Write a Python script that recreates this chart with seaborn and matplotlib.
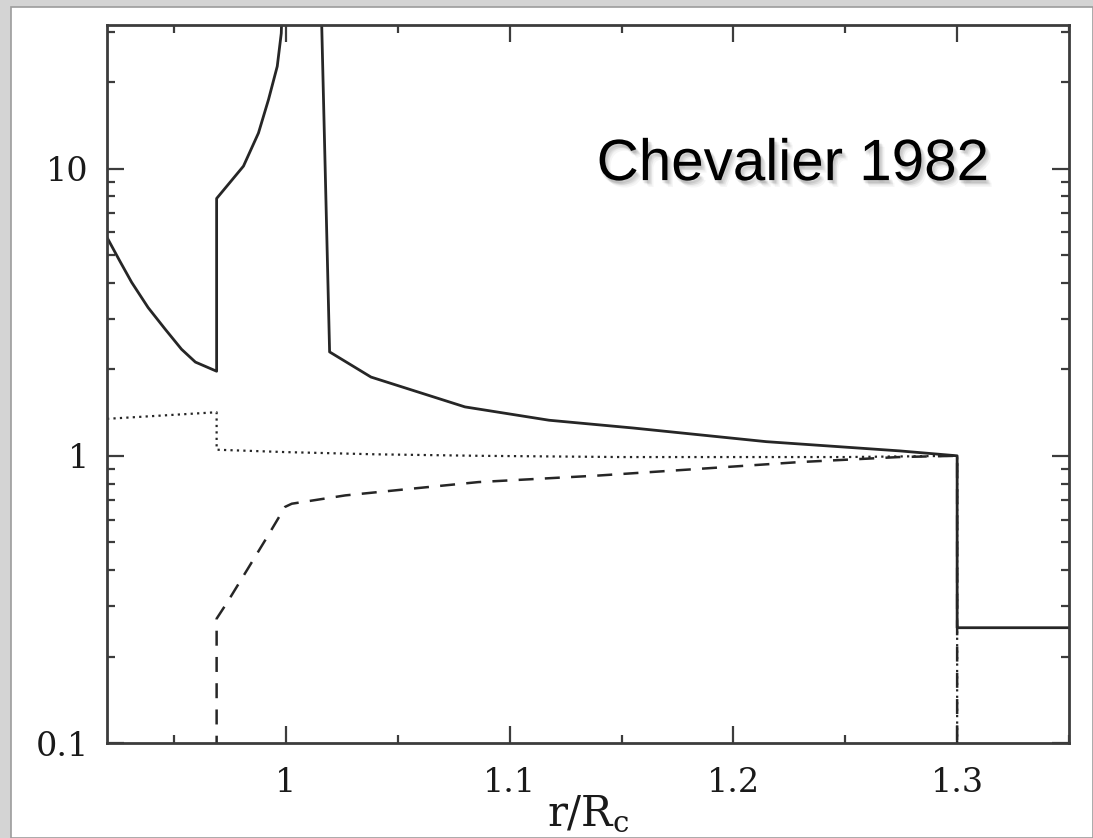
import numpy as np
import pandas as pd
import seaborn as sns
import matplotlib
matplotlib.use("Agg")
import matplotlib.pyplot as plt
import matplotlib.ticker as mticker
import matplotlib.patheffects as pe
from matplotlib.patches import Rectangle

# Solid curve: left part (inner shell, rising toward the contact discontinuity)
solid_left_r = [0.92, 0.9257, 0.931, 0.9384, 0.946, 0.9533, 0.9595, 0.969, 0.969,
                0.981, 0.9877, 0.9922, 0.9961, 0.9979, 0.9986]
solid_left_v = [5.76, 4.77, 4.02, 3.28, 2.76, 2.35, 2.12, 1.97, 7.87,
                10.2, 13.3, 17.4, 22.7, 29.6, 45.0]

# Solid curve: right part (outer shell down to the forward shock and beyond)
solid_right_r = [1.0155, 1.0195, 1.038, 1.08, 1.1176, 1.155, 1.2147, 1.2744, 1.30, 1.30, 1.35]
solid_right_v = [45.0, 2.30, 1.88, 1.48, 1.33, 1.25, 1.12, 1.04, 1.00, 0.252, 0.252]

# Dotted curve
dotted_r = [0.92, 0.969, 0.969, 1.00, 1.04, 1.086, 1.15, 1.25, 1.30, 1.30]
dotted_v = [1.345, 1.418, 1.05, 1.03, 1.012, 1.00, 0.99, 0.99, 1.00, 0.05]

# Dashed curve
dashed_r = [0.969, 0.969, 0.974, 0.983, 0.992, 0.9996, 1.0026, 1.0265, 1.056, 1.086,
            1.14, 1.185, 1.2296, 1.274, 1.30, 1.30]
dashed_v = [0.05, 0.271, 0.311, 0.405, 0.528, 0.664, 0.681, 0.728, 0.768, 0.81,
            0.854, 0.901, 0.951, 0.99, 1.00, 0.05]

x_ticks = [1.0, 1.1, 1.2, 1.3]
y_ticks = [0.1, 1, 10]

sns.set_theme(style="ticks")
plt.rcParams["font.family"] = ["DejaVu Serif"]

W, H = 1093, 838
fig = plt.figure(figsize=(W / 100, H / 100), dpi=100)
fig.patch.set_facecolor("#d4d4d4")
# white card with a thin grey edge
fig.add_artist(Rectangle((11 / W, 0), (W - 11) / W, (H - 7) / H, transform=fig.transFigure,
                         facecolor="white", edgecolor="#9c9c9c", lw=1.2, zorder=0))

ax = fig.add_axes([107 / W, (H - 743) / H, (1069 - 107) / W, (743 - 25) / H])
ax.set_facecolor("none")

line_color = "#262626"
solid_df = pd.concat([
    pd.DataFrame({"r": solid_left_r, "v": solid_left_v, "seg": "a"}),
    pd.DataFrame({"r": solid_right_r, "v": solid_right_v, "seg": "b"}),
])
sns.lineplot(data=solid_df, x="r", y="v", units="seg", estimator=None, sort=False,
             color=line_color, lw=2.0, ax=ax)
sns.lineplot(x=dotted_r, y=dotted_v, estimator=None, sort=False, color=line_color,
             lw=1.6, ax=ax, linestyle=(0, (1, 1.9)))
sns.lineplot(x=dashed_r, y=dashed_v, estimator=None, sort=False, color=line_color,
             lw=1.8, ax=ax, linestyle=(0, (6, 4.5)))

ax.set_yscale("log")
ax.set_xlim(0.92, 1.35)
ax.set_ylim(0.1, 10 ** 1.5)

ax.xaxis.set_major_locator(mticker.FixedLocator(x_ticks))
ax.xaxis.set_minor_locator(mticker.MultipleLocator(0.05))
ax.xaxis.set_major_formatter(mticker.FuncFormatter(lambda v, p: f"{v:g}"))
ax.yaxis.set_major_locator(mticker.FixedLocator(y_ticks))
ax.yaxis.set_minor_locator(mticker.LogLocator(base=10, subs=np.arange(2, 10)))
ax.yaxis.set_major_formatter(mticker.FuncFormatter(lambda v, p: f"{v:g}"))
ax.yaxis.set_minor_formatter(mticker.NullFormatter())

spine_color = "#3c3c3c"
for s in ax.spines.values():
    s.set_color(spine_color)
    s.set_linewidth(2.0)
ax.tick_params(which="both", direction="in", top=True, right=True, color=spine_color,
               width=1.6, labelcolor="#1a1a1a", labelsize=24)
ax.tick_params(which="major", length=12)
ax.tick_params(which="minor", length=6)
ax.tick_params(axis="y", which="major", pad=13)
ax.tick_params(axis="x", which="major", pad=17)

ax.set_xlabel(r"r/R$_\mathregular{c}$", fontsize=30, color="#1a1a1a", labelpad=-4)
ax.set_ylabel("")

shadow = [pe.SimplePatchShadow(offset=(dx, dy), shadow_rgbFace="black", alpha=0.035)
          for dx, dy in [(1, -2), (2, -3), (3, -4), (2, -2), (1, -3), (3, -3), (4, -5), (0, -2)]]
ax.text(0.509, 0.784, "Chevalier 1982", transform=ax.transAxes, ha="left", va="baseline",
        fontsize=42, family=["Liberation Sans", "DejaVu Sans"], color="black",
        path_effects=shadow + [pe.Normal()])

fig.savefig("out.png", dpi=100, facecolor=fig.get_facecolor())
